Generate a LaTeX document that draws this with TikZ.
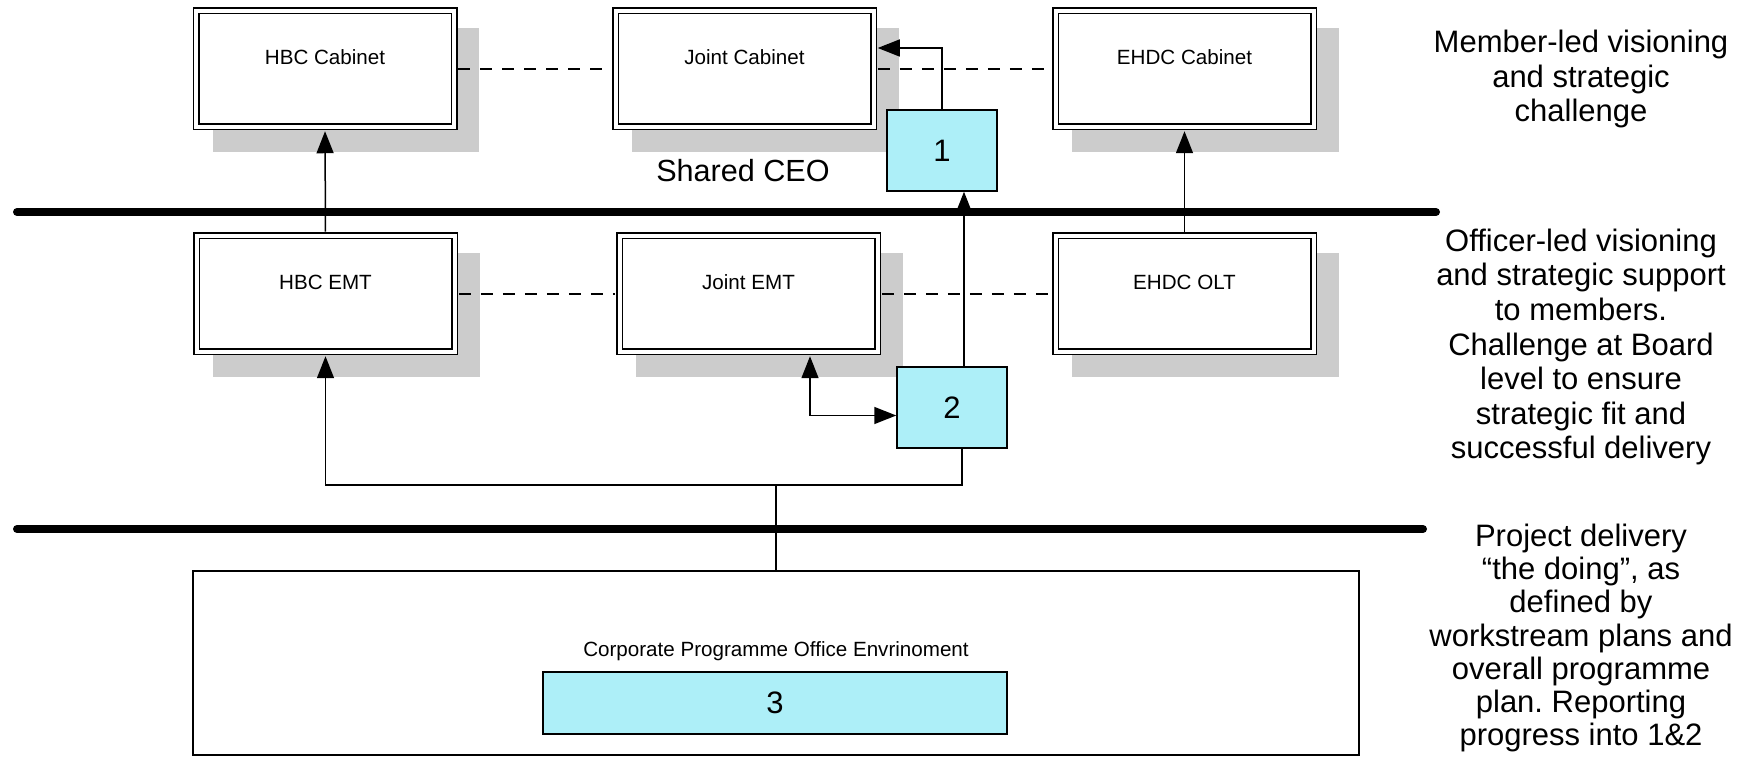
\documentclass[tikz,border=0pt]{standalone}
\usepackage{fontspec}
\setmainfont{Liberation Sans}
\usetikzlibrary{arrows.meta,calc}
\pgfdeclarelayer{background}
\pgfsetlayers{background,main}
\definecolor{shadowgrey}{RGB}{204,204,204}
\definecolor{stagecyan}{RGB}{173,239,248}
\frenchspacing

% grey drop shadow behind a double-ruled board box
\newcommand\boardshadow[1]{%
  \fill[shadowgrey] ($(#1.south west)+(8.75pt,-12.25pt)$) rectangle ($(#1.north east)+(12.25pt,-8.75pt)$);}

\begin{document}
\begin{tikzpicture}[x=0.5pt, y=-0.5pt,
  board/.style={draw, double, line width=0.75pt, double distance=2pt, fill=white,
    minimum width=129pt, minimum height=58pt, inner sep=0pt,
    text height=7pt, text depth=11.5pt, font=\fontsize{10.3pt}{12pt}\selectfont},
  stage/.style={draw, line width=0.75pt, fill=stagecyan, inner sep=0pt,
    font=\fontsize{15.5pt}{18pt}\selectfont},
  plain/.style={draw, line width=0.75pt, fill=white, inner sep=0pt},
  small/.style={font=\fontsize{10.3pt}{12pt}\selectfont, inner sep=0pt},
  note/.style={align=center, inner sep=0pt, font=\fontsize{15.5pt}{17.3pt}\selectfont},
  link/.style={line width=0.75pt, dash pattern=on 6pt off 5pt, shorten <=1.75pt, shorten >=1.75pt},
  wire/.style={line width=0.75pt},
  flow/.style={line width=0.75pt, -{Triangle[length=11pt,width=8.5pt]}},
  flowboth/.style={line width=0.75pt, {Triangle[length=11pt,width=8.5pt]}-{Triangle[length=11pt,width=8.5pt]}},
  tier/.style={line width=4pt, line cap=round}]

\useasboundingbox (0,0) rectangle (1742,758);

% --- member tier ---
\node[board] (hbcc) at (325,69)    {HBC Cabinet};
\node[board] (jc)   at (744.5,69)  {Joint Cabinet};
\node[board] (ehc)  at (1184.5,69) {EHDC Cabinet};

% --- officer tier ---
\node[board] (hbce) at (325.5,294)  {HBC EMT};
\node[board] (je)   at (748.5,294)  {Joint EMT};
\node[board] (eo)   at (1184.5,294) {EHDC OLT};

\begin{pgfonlayer}{background}
  \boardshadow{hbcc}\boardshadow{jc}\boardshadow{ehc}
  \boardshadow{hbce}\boardshadow{je}\boardshadow{eo}
\end{pgfonlayer}

% --- numbered stages ---
\node[stage, minimum width=55pt, minimum height=40.5pt] (b1) at (942,150.5) {1};
\node[stage, minimum width=55pt, minimum height=40.5pt] (b2) at (952,407.5) {2};
\node[note, font=\fontsize{15.3pt}{18pt}\selectfont] (ceo) at (743,171) {Shared CEO};

% --- delivery tier ---
\node[plain, minimum width=583pt, minimum height=92pt] (cpo) at (776,663) {};
\node[small] (cpolabel) at (776,651) {Corporate Programme Office Envrinoment};
\node[stage, minimum width=232pt, minimum height=31pt] (b3) at (775,703) {3};

% --- tier separators ---
\coordinate (t1a) at (17,212);
\coordinate (t1b) at (1436,212);
\coordinate (t2a) at (17,529);
\coordinate (t2b) at (1423,529);
\draw[tier] (t1a) -- (t1b);
\draw[tier] (t2a) -- (t2b);

% --- peer links ---
\draw[link] (hbcc.east) -- (jc.west);
\draw[link] (jc.east) -- (ehc.west);
\draw[link] (hbce.east) -- (je.west);
\draw[link] (je.east) -- (eo.west);

% --- reporting lines ---
\draw[flow, shorten <=1.75pt, shorten >=1.75pt] (hbce.north) -- (hbcc.south);
\draw[flow, shorten <=1.75pt, shorten >=1.75pt] (eo.north) -- (ehc.south);
\draw[flow] ([xshift=6pt]b2.north) -- ([xshift=6pt]b2.north |- b1.south);
\draw[flow, shorten >=1.75pt] (b1.north) |- ([yshift=10.5pt]jc.east);
\draw[flowboth, shorten <=1.75pt] ([xshift=30.75pt]je.south) |- ([yshift=-4pt]b2.west);

\coordinate (bus) at (776,485);
\draw[flow, shorten >=1.75pt] ([xshift=5pt]b2.south) |- (bus) -| (hbce.south);
\draw[wire] (cpo.north) -- (bus);

% --- tier descriptions ---
\node[note] (n1) at (1581,79) {Member-led visioning\\and strategic\\challenge};
\node[note] (n2) at (1581,347) {Officer-led visioning\\and strategic support\\to members.\\Challenge at Board\\level to ensure\\strategic fit and\\successful delivery};
\node[note, font=\fontsize{15.5pt}{16.6pt}\selectfont] (n3) at (1581,638) {Project delivery\\“the doing”, as\\defined by\\workstream plans and\\overall programme\\plan. Reporting\\progress into 1\&2};

\end{tikzpicture}
\end{document}
